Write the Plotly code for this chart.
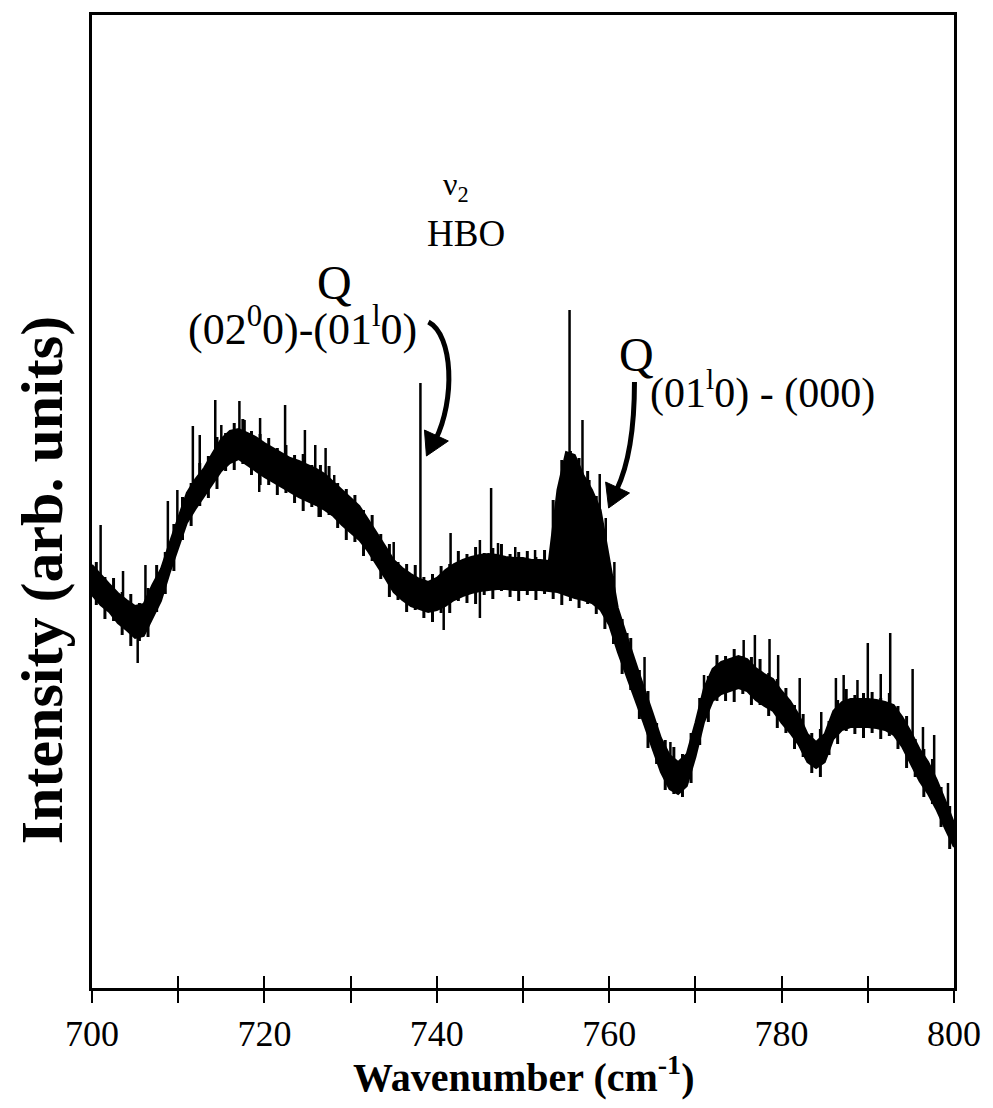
import plotly.graph_objects as go

# ---------------- data (arbitrary intensity units) ----------------
wavenumber = [700 + i for i in range(101)]

band_upper = [425, 415, 406, 397, 390, 384, 386, 405, 421, 447,
              473, 497, 511, 522, 537, 551, 559, 561, 557, 553,
              547, 542, 537, 532, 529, 525, 521, 516, 508, 499,
              491, 484, 471, 458, 444, 430, 422, 416, 411, 408,
              412, 420, 426, 430, 433, 435, 436, 435, 433, 432,
              432, 430, 430, 429, 500, 538, 535, 515, 500, 480,
              430, 382, 355, 328, 303, 278, 252, 235, 228, 236,
              267, 302, 321, 328, 331, 334, 331, 322, 316, 311,
              299, 289, 275, 256, 248, 256, 279, 288, 291, 291,
              291, 290, 288, 285, 273, 258, 241, 228, 210, 189,
              167]

band_lower = [395, 385, 378, 367, 360, 352, 354, 371, 389, 417,
              443, 467, 481, 494, 507, 519, 527, 531, 525, 519,
              513, 508, 503, 498, 493, 489, 485, 480, 474, 465,
              457, 450, 439, 426, 412, 398, 390, 384, 381, 378,
              380, 384, 390, 394, 397, 399, 400, 401, 401, 400,
              400, 400, 400, 399, 398, 395, 392, 390, 387, 380,
              365, 338, 315, 292, 267, 242, 218, 201, 196, 204,
              233, 268, 289, 296, 299, 302, 299, 290, 284, 279,
              267, 257, 245, 228, 222, 228, 251, 260, 263, 263,
              263, 262, 260, 255, 243, 226, 209, 196, 180, 161,
              143]

# half-step noise extremes (x = 700.5 ... 799.5)
noise_wn = [700.5 + i for i in range(100)]
noise_top = [428, 413, 412, 398, 396, 387, 402, 425, 438, 466,
             493, 507, 527, 534, 553, 557, 567, 571, 559, 556,
             552, 542, 545, 535, 536, 525, 525, 524, 507, 501,
             495, 480, 475, 456, 446, 428, 426, 425, 413, 416,
             424, 426, 439, 436, 443, 437, 442, 446, 436, 438,
             439, 433, 440, 490, 530, 539, 532, 519, 494, 461,
             414, 371, 352, 320, 299, 267, 250, 243, 236, 257,
             292, 314, 335, 334, 341, 334, 333, 331, 317, 311,
             302, 285, 276, 257, 261, 269, 290, 301, 295, 297,
             298, 292, 297, 284, 274, 251, 241, 231, 203, 184]
noise_bot = [385, 371, 369, 355, 344, 349, 353, 378, 396, 419,
             450, 464, 484, 492, 501, 519, 520, 526, 515, 505,
             505, 495, 497, 487, 479, 483, 473, 475, 462, 450,
             448, 434, 429, 411, 393, 390, 378, 380, 372, 368,
             377, 377, 389, 387, 386, 395, 391, 399, 393, 389,
             395, 390, 396, 391, 385, 389, 382, 386, 376, 361,
             346, 316, 300, 271, 242, 226, 200, 196, 193, 207,
             245, 268, 289, 289, 288, 296, 285, 285, 274, 262,
             257, 241, 233, 217, 213, 235, 246, 259, 256, 252,
             257, 251, 254, 241, 222, 213, 193, 186, 163, 141]

spike_wn = [701.0, 703.6, 706.2, 708.8, 709.9, 711.7, 712.5, 714.3, 715.0, 717.1,
            717.7, 719.5, 722.4, 724.7, 725.9, 727.1, 728.1, 735.0, 738.1, 741.6,
            745.0, 746.3, 747.1, 749.1, 751.4, 755.4, 756.9, 757.7, 758.9, 759.6,
            760.6, 762.1, 764.1, 767.1, 771.0, 775.6, 776.9, 778.6, 779.6, 782.1,
            784.6, 786.3, 787.2, 788.8, 790.0, 791.5, 792.6, 795.2, 796.4, 797.7,
            799.3,
            705.3, 719.4, 726.3, 740.8, 745.0]
spike_base = [400, 385, 370, 420, 450, 485, 500, 520, 535, 545,
              545, 535, 520, 510, 505, 498, 490, 415, 395, 405,
              415, 418, 418, 415, 415, 470, 460, 450, 430, 420,
              380, 330, 285, 218, 285, 318, 306, 300, 295, 260,
              235, 265, 274, 277, 277, 276, 274, 242, 225, 212,
              175,
              368, 535, 503, 396, 417]
spike_tip = [465, 419, 425, 489, 500, 564, 555, 590, 565, 589,
             570, 572, 585, 560, 545, 542, 515, 448, 607, 457,
             450, 502, 447, 443, 440, 680, 570, 510, 516, 472,
             428, 357, 333, 248, 315, 350, 355, 351, 335, 312,
             278, 312, 315, 310, 347, 316, 357, 321, 263, 255,
             207,
             327, 498, 473, 360, 372]

x_tick_values = [700, 710, 720, 730, 740, 750, 760, 770, 780, 790, 800]
x_tick_labels = ["700", "", "720", "", "740", "", "760", "", "780", "", "800"]

# ---------------- figure ----------------
FONT = "Liberation Serif"
X0, X1 = 700, 800
Y0, Y1 = 2, 975
PX_L, PX_R, PY_T, PY_B = 92, 958, 15, 988


def px2x(px):
    return X0 + (px - PX_L) * (X1 - X0) / (PX_R - PX_L)


def py2y(py):
    return Y0 + (PY_B - py) * (Y1 - Y0) / (PY_B - PY_T)


def px2paper(px):
    return (px - PX_L) / (PX_R - PX_L)


def py2paper(py):
    return (PY_B - py) / (PY_B - PY_T)


fig = go.Figure()

# noisy band (between upper and lower envelopes)
fig.add_trace(go.Scatter(x=wavenumber, y=band_lower, mode="lines",
                         line=dict(color="black", width=2), showlegend=False,
                         hoverinfo="skip"))
fig.add_trace(go.Scatter(x=wavenumber, y=band_upper, mode="lines",
                         line=dict(color="black", width=2), fill="tonexty",
                         fillcolor="black", showlegend=False))

# half-step noise excursions
nx, ny = [], []
for w, b, t in zip(noise_wn, noise_bot, noise_top):
    nx += [w, w, None]
    ny += [b, t, None]
fig.add_trace(go.Scatter(x=nx, y=ny, mode="lines", line=dict(color="black", width=3),
                         showlegend=False, hoverinfo="skip"))

# sharp spikes
sx, sy = [], []
for w, b, t in zip(spike_wn, spike_base, spike_tip):
    sx += [w, w, None]
    sy += [b, t, None]
fig.add_trace(go.Scatter(x=sx, y=sy, mode="lines", line=dict(color="black", width=2.5),
                         showlegend=False, hoverinfo="skip"))

# ---------------- annotations ----------------
def ann(text, px, py, size, **kw):
    fig.add_annotation(x=px2paper(px), y=py2paper(py), xref="paper", yref="paper",
                       xanchor="center", yanchor="middle",
                       text=text, showarrow=False,
                       font=dict(family=FONT, size=size, color="black"), **kw)

ann("ν<sub>2</sub>", 458, 186, 32)
ann("HBO", 468, 234, 37)
ann("Q", 336, 283, 48)
ann("(02<sup>0</sup>0)-(01<sup>l</sup>0)", 303, 326, 44)
ann("Q", 639, 354, 48)
ann("(01<sup>l</sup>0) - (000)", 766, 390, 42)

# curved arrows (drawn as SVG paths)
def P(px, py):
    return f"{px2x(px):.3f},{py2y(py):.3f}"

arrow_paths = [
    f"M {P(430, 322)} C {P(455, 335)} {P(457, 400)} {P(437, 440)}",
    f"M {P(637, 382)} C {P(637, 430)} {P(631, 465)} {P(619, 490)}",
]
for p in arrow_paths:
    fig.add_shape(type="path", path=p, xref="x", yref="y",
                  line=dict(color="black", width=5))

heads = [
    [(428, 456), (450, 441), (426, 430)],
    [(611, 508), (632, 493), (608, 482)],
]
for h in heads:
    path = "M " + " L ".join(P(a, b) for a, b in h) + " Z"
    fig.add_shape(type="path", path=path, xref="x", yref="y",
                  line=dict(color="black", width=1), fillcolor="black")

ann("<b>Intensity (arb. units)</b>", 42, 580, 60, textangle=-90)
ann("<b>Wavenumber (cm<sup>-1</sup>)</b>", 525, 1074, 40)

fig.update_layout(
    width=993, height=1108,
    margin=dict(l=PX_L, r=993 - PX_R, t=PY_T, b=1108 - PY_B),
    plot_bgcolor="white", paper_bgcolor="white",
    showlegend=False,
    font=dict(family=FONT, color="black"),
    xaxis=dict(range=[X0, X1], tickmode="array", tickvals=x_tick_values,
               ticktext=x_tick_labels, ticks="outside", ticklen=12, tickwidth=2,
               tickcolor="black", showline=True, linewidth=3, linecolor="black",
               mirror=True, showgrid=False, zeroline=False,
               tickfont=dict(family=FONT, size=36, color="black")),
    xaxis2=dict(range=[X0, X1], overlaying="x", side="bottom", tickmode="array",
                tickvals=x_tick_values, ticks="inside", ticklen=12, tickwidth=2,
                tickcolor="black", showticklabels=False, showgrid=False,
                zeroline=False, showline=False),
    yaxis=dict(range=[Y0, Y1], showticklabels=False, ticks="", showline=True,
               linewidth=3, linecolor="black", mirror=True, showgrid=False,
               zeroline=False),
)
# invisible trace so xaxis2 is drawn
fig.add_trace(go.Scatter(x=[X0], y=[Y0], xaxis="x2", mode="markers",
                         marker=dict(opacity=0), showlegend=False, hoverinfo="skip"))

fig.write_html("out.html")
